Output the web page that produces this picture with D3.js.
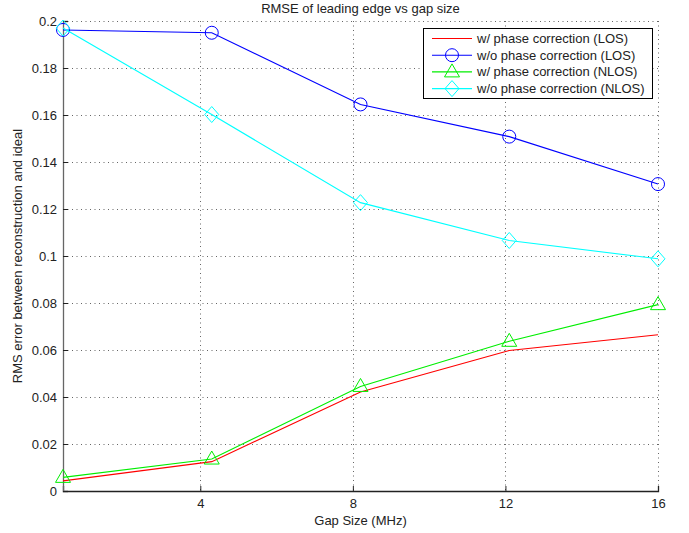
<!DOCTYPE html>
<html><head><meta charset="utf-8">
<script src="https://cdn.jsdelivr.net/npm/d3@7"></script>
<style>body{margin:0;background:#fff}svg{display:block}text{font-family:"Liberation Sans",Arial,sans-serif;fill:#222}</style>
</head><body>
<script>
const gapSizes = [0.4, 4.3, 8.2, 12.1, 16];
const losWith = [0.0043, 0.0125, 0.0421, 0.0598, 0.0665];
const losWithout = [0.1962, 0.1950, 0.1645, 0.1508, 0.1306];
const nlosWith = [0.0058, 0.0136, 0.0445, 0.0637, 0.0793];
const nlosWithout = [0.1970, 0.1602, 0.1227, 0.1066, 0.0988];
const xTicks = [4, 8, 12, 16];
const yTicks = [0, 0.02, 0.04, 0.06, 0.08, 0.1, 0.12, 0.14, 0.16, 0.18, 0.2];
const seriesNames = ["w/ phase correction (LOS)", "w/o phase correction (LOS)", "w/ phase correction (NLOS)", "w/o phase correction (NLOS)"];
const seriesColors = ["#ff0000", "#0000ff", "#00ee00", "#00ffff"];
const seriesMarkers = ["none", "circle", "triangle", "diamond"];
const seriesValues = [losWith, losWithout, nlosWith, nlosWithout];

const W = 689, H = 533;
const m = {l: 63, r: 31, t: 21, b: 42};
const FS = 13;
const svg = d3.select("body").append("svg").attr("width", W).attr("height", H);
const x = d3.scaleLinear().domain([0.4, 16]).range([m.l, W - m.r]);
const y = d3.scaleLinear().domain([0, 0.2]).range([H - m.b, m.t]);

// grid
const grid = svg.append("g").attr("stroke", "#666").attr("stroke-width", 1).attr("stroke-dasharray", "1,3.5");
xTicks.forEach(t => grid.append("line").attr("x1", Math.round(x(t)) + 0.5).attr("x2", Math.round(x(t)) + 0.5).attr("y1", y(0.2)).attr("y2", y(0)));
yTicks.filter(t => t > 0).forEach(t => grid.append("line").attr("x1", x(0.4)).attr("x2", x(16)).attr("y1", Math.round(y(t)) + 0.5).attr("y2", Math.round(y(t)) + 0.5));

// axes
const xAxis = d3.axisBottom(x).tickValues(xTicks).tickSize(-5).tickPadding(8).tickFormat(d3.format("d"));
const yAxis = d3.axisLeft(y).tickValues(yTicks).tickSize(-5).tickPadding(6).tickFormat(d => d === 0 ? "0" : String(+d.toFixed(2)));
const gx = svg.append("g").attr("transform", `translate(0,${H - m.b})`).call(xAxis);
const gy = svg.append("g").attr("transform", `translate(${m.l},0)`).call(yAxis);
[gx, gy].forEach(g => {
  g.select(".domain").attr("stroke", "#222").attr("stroke-width", 1.3);
  g.selectAll(".tick line").attr("stroke", "#222");
  g.selectAll(".tick text").attr("font-size", FS).attr("fill", "#222").attr("font-family", "Liberation Sans, Arial, sans-serif");
});
gy.select(".domain").attr("stroke", "#666");

// markers
function drawMarker(g, type, cx, cy, color) {
  if (type === "circle") g.append("circle").attr("cx", cx).attr("cy", cy).attr("r", 6.5).attr("fill", "none").attr("stroke", color).attr("stroke-width", 1);
  else if (type === "triangle") g.append("path").attr("d", `M${cx},${cy - 8}L${cx + 7.5},${cy + 5}L${cx - 7.5},${cy + 5}Z`).attr("fill", "none").attr("stroke", color).attr("stroke-width", 1);
  else if (type === "diamond") g.append("path").attr("d", `M${cx},${cy - 8}L${cx + 7},${cy}L${cx},${cy + 8}L${cx - 7},${cy}Z`).attr("fill", "none").attr("stroke", color).attr("stroke-width", 1);
}

const line = d3.line().x((d, i) => x(gapSizes[i])).y(d => y(d));
seriesValues.forEach((vals, k) => {
  const g = svg.append("g");
  g.append("path").attr("d", line(vals)).attr("fill", "none").attr("stroke", seriesColors[k]).attr("stroke-width", 1.1);
  vals.forEach((v, i) => drawMarker(g, seriesMarkers[k], x(gapSizes[i]), y(v), seriesColors[k]));
});

// title and labels
svg.append("text").attr("x", (x(0.4) + x(16)) / 2).attr("y", 13).attr("text-anchor", "middle").attr("font-size", FS).text("RMSE of leading edge vs gap size");
svg.append("text").attr("x", (x(0.4) + x(16)) / 2).attr("y", 525).attr("text-anchor", "middle").attr("font-size", FS).text("Gap Size (MHz)");
svg.append("text").attr("transform", `translate(22,${(y(0) + y(0.2)) / 2}) rotate(-90)`).attr("text-anchor", "middle").attr("font-size", FS).text("RMS error between reconstruction and ideal");

// legend
const lg = svg.append("g");
lg.append("rect").attr("x", 423.5).attr("y", 28.5).attr("width", 229).attr("height", 70).attr("fill", "#fff").attr("stroke", "#000").attr("stroke-width", 1);
seriesNames.forEach((name, k) => {
  const cy = 38.5 + k * 16.7;
  lg.append("line").attr("x1", 432).attr("x2", 472).attr("y1", cy).attr("y2", cy).attr("stroke", seriesColors[k]).attr("stroke-width", 1.1);
  drawMarker(lg, seriesMarkers[k], 452, cy, seriesColors[k]);
  lg.append("text").attr("x", 477).attr("y", cy + 4.5).attr("font-size", FS).attr("fill", "#000").text(name);
});
</script>
</body></html>
